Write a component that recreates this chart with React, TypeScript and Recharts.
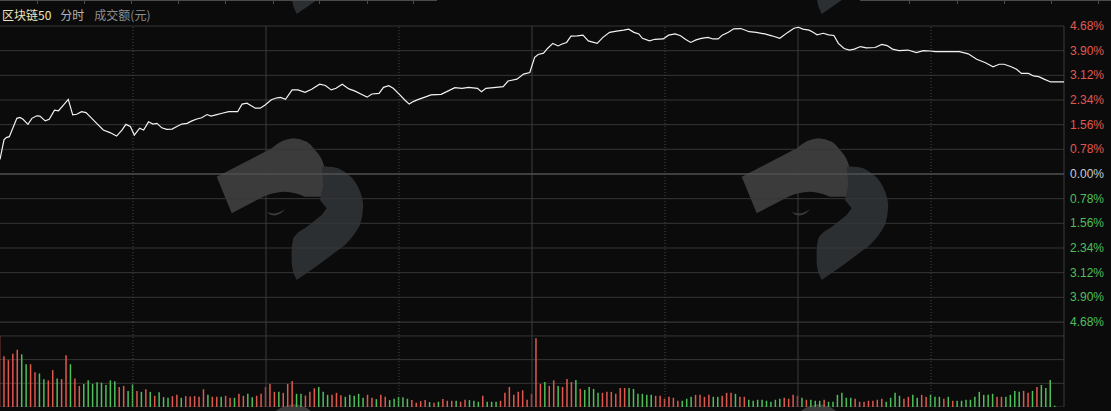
import React from "react";
import {
  LineChart,
  Line,
  BarChart,
  Bar,
  Cell,
  XAxis,
  YAxis,
  CartesianGrid,
  ReferenceLine,
} from "recharts";

// intraday minute index (0 = 9:30, 120 = 11:30/13:00, 240 = 15:00) and % change
const lineMinute = [
  0, 0.9, 1.4, 2.1, 3.8, 4.5, 5.2, 6.3, 7.2, 8.3,
  9.0, 10.2, 11.1, 12.3, 13.2, 14.3, 15.4, 16.4, 17.3, 18.4,
  19.4, 20.7, 21.8, 23.3, 24.8, 26.3, 27.5, 28.4, 29.4, 30.3,
  31.5, 32.4, 33.5, 34.5, 35.4, 36.5, 37.6, 38.8, 39.9, 41.0,
  42.2, 43.3, 44.4, 45.5, 46.7, 47.6, 48.9, 50.1, 51.6, 53.6,
  54.6, 55.7, 57.6, 58.7, 59.8, 61.2, 62.5, 63.3, 64.4, 65.9,
  67.2, 68.8, 70.3, 72.1, 73.4, 74.7, 75.8, 77.2, 78.7, 80.1,
  81.5, 82.8, 83.9, 85.5, 86.5, 87.7, 88.7, 90.2, 91.3, 92.3,
  93.2, 94.4, 96.0, 97.2, 99.5, 101.0, 102.6, 104.2, 105.7, 107.7,
  108.6, 109.6, 111.9, 113.5, 114.6, 116.6, 118.1, 119.5, 120.6, 121.4,
  122.6, 123.5, 124.7, 125.9, 126.8, 127.8, 128.8, 130.2, 131.5, 132.7,
  133.7, 134.7, 136.0, 137.5, 139.1, 140.7, 141.8, 143.0, 144.1, 144.9,
  146.5, 147.7, 149.6, 150.8, 152.3, 153.5, 154.6, 155.8, 157.0, 158.2,
  159.7, 160.8, 162.0, 162.9, 164.3, 165.5, 167.1, 169.0, 170.6, 172.5,
  174.1, 175.9, 177.6, 179.1, 180.1, 181.1, 182.5, 183.4, 184.3, 185.7,
  186.9, 188.1, 189.1, 190.4, 191.6, 192.7, 194.1, 195.4, 197.4, 198.9,
  200.1, 201.3, 202.8, 204.8, 206.7, 208.3, 209.8, 211.0, 212.9, 216.4,
  218.4, 220.3, 222.3, 224.0, 225.4, 226.5, 228.1, 229.3, 230.4, 232.0,
  233.1, 234.3, 235.5, 237.0, 240.0,
];

const linePct = [
  0.46, 1.08, 1.15, 1.18, 1.76, 1.79, 1.73, 1.57, 1.76, 1.84,
  1.83, 1.68, 1.73, 2.02, 2.0, 2.18, 2.36, 1.87, 1.89, 1.97,
  1.94, 1.76, 1.6, 1.39, 1.31, 1.2, 1.39, 1.57, 1.5, 1.23,
  1.45, 1.39, 1.65, 1.58, 1.6, 1.46, 1.41, 1.42, 1.5, 1.58,
  1.6, 1.68, 1.74, 1.78, 1.88, 1.83, 1.88, 1.92, 1.97, 1.97,
  2.21, 2.24, 2.08, 2.08, 2.18, 2.35, 2.41, 2.42, 2.36, 2.66,
  2.66, 2.58, 2.68, 2.84, 2.8, 2.66, 2.71, 2.84, 2.69, 2.62,
  2.52, 2.43, 2.53, 2.55, 2.74, 2.79, 2.71, 2.5, 2.34, 2.21,
  2.29, 2.36, 2.44, 2.5, 2.52, 2.62, 2.73, 2.71, 2.74, 2.71,
  2.6, 2.71, 2.74, 2.76, 2.94, 3.0, 3.16, 3.21, 3.69, 3.78,
  3.82, 3.97, 4.13, 4.05, 4.11, 4.16, 4.36, 4.37, 4.39, 4.21,
  4.17, 4.13, 4.32, 4.48, 4.52, 4.55, 4.58, 4.48, 4.43, 4.29,
  4.21, 4.26, 4.27, 4.39, 4.43, 4.37, 4.26, 4.16, 4.24, 4.29,
  4.32, 4.27, 4.27, 4.39, 4.48, 4.59, 4.6, 4.5, 4.48, 4.43,
  4.37, 4.29, 4.47, 4.61, 4.64, 4.58, 4.55, 4.48, 4.4, 4.45,
  4.4, 4.38, 4.13, 3.97, 3.92, 3.95, 4.03, 3.99, 4.0, 4.1,
  4.06, 3.95, 3.9, 3.92, 3.84, 3.9, 3.89, 3.87, 3.87, 3.87,
  3.8, 3.63, 3.52, 3.39, 3.47, 3.47, 3.39, 3.31, 3.18, 3.18,
  3.1, 3.08, 3.0, 2.91, 2.91,
];

// turnover per minute (relative units) and whether the minute closed up
const volAmount = [
  215, 154, 142, 162, 174, 160, 130, 130, 106, 102,
  84, 81, 112, 87, 85, 157, 130, 87, 64, 70,
  81, 70, 75, 74, 67, 81, 78, 61, 64, 49,
  69, 49, 46, 54, 46, 34, 45, 30, 28, 33,
  37, 28, 33, 32, 33, 31, 54, 37, 31, 31,
  31, 34, 28, 28, 40, 34, 40, 30, 34, 40,
  61, 70, 46, 46, 43, 70, 79, 40, 40, 35,
  46, 57, 61, 46, 37, 37, 43, 36, 31, 37,
  34, 40, 28, 37, 28, 24, 37, 31, 21, 25,
  31, 30, 25, 21, 13, 18, 21, 15, 13, 16,
  24, 19, 19, 19, 16, 22, 21, 19, 16, 34,
  16, 16, 16, 19, 43, 61, 37, 46, 51, 22,
  40, 209, 70, 76, 64, 81, 64, 61, 85, 76,
  82, 55, 52, 61, 55, 43, 43, 46, 46, 40,
  58, 58, 58, 55, 40, 40, 37, 37, 34, 34,
  25, 31, 28, 19, 19, 25, 31, 37, 37, 31,
  37, 31, 31, 34, 43, 43, 40, 31, 31, 22,
  19, 22, 22, 19, 16, 22, 25, 28, 25, 37,
  34, 28, 22, 22, 19, 19, 22, 16, 16, 37,
  43, 28, 28, 25, 16, 16, 19, 19, 22, 25,
  16, 28, 43, 34, 25, 31, 37, 28, 37, 31,
  37, 31, 31, 25, 31, 19, 19, 19, 22, 22,
  31, 46, 37, 37, 40, 31, 31, 31, 37, 49,
  46, 49, 43, 49, 61, 67, 58, 82, 4,
];

const volUp = [
  1, 1, 1, 1, 1, 0, 0, 1, 1, 0,
  0, 1, 1, 0, 1, 1, 0, 1, 1, 0,
  0, 0, 0, 0, 0, 0, 0, 1, 1, 0,
  0, 1, 0, 1, 0, 1, 0, 0, 0, 1,
  1, 0, 1, 1, 1, 1, 1, 0, 1, 1,
  0, 1, 1, 0, 1, 1, 0, 0, 1, 1,
  1, 1, 1, 0, 1, 1, 1, 0, 0, 1,
  1, 1, 0, 0, 0, 1, 1, 1, 0, 0,
  0, 0, 0, 1, 1, 0, 1, 1, 0, 0,
  0, 0, 0, 1, 1, 1, 1, 0, 1, 0,
  1, 1, 1, 0, 1, 1, 0, 0, 0, 1,
  0, 0, 0, 1, 1, 1, 1, 1, 1, 1,
  1, 1, 1, 0, 1, 1, 0, 1, 1, 1,
  0, 1, 0, 0, 0, 0, 1, 1, 1, 1,
  1, 1, 0, 0, 0, 0, 0, 0, 1, 1,
  1, 1, 1, 1, 0, 0, 0, 1, 1, 1,
  1, 0, 0, 1, 1, 1, 0, 1, 1, 0,
  0, 0, 0, 0, 0, 0, 0, 1, 1, 1,
  1, 0, 1, 0, 0, 0, 1, 0, 0, 0,
  0, 0, 0, 1, 1, 1, 1, 1, 1, 1,
  0, 0, 0, 0, 1, 1, 0, 0, 1, 1,
  0, 0, 0, 1, 0, 1, 0, 0, 0, 0,
  0, 0, 0, 0, 0, 1, 1, 0, 0, 0,
  0, 1, 1, 0, 1, 0, 0, 0, 0,
];

const pctTicks = [
  -4.68, -3.9, -3.12, -2.34, -1.56, -0.78, 0, 0.78, 1.56, 2.34, 3.12, 3.9, 4.68,
];
const solidMinutes = [60, 120, 180];
const dottedMinutes = [30, 90, 150, 210];

const UP = "#e0594f";
const DOWN = "#4fbf5c";
const GRID = "#363636";

const priceData = lineMinute.map((m, i) => ({ m, v: linePct[i] }));
const volData = volAmount.map((a, i) => ({ m: i, a, up: volUp[i] === 1 }));

const PctTick = (props: any) => {
  const { x, y, payload } = props;
  const v = payload.value as number;
  const fill = v > 0 ? UP : v < 0 ? DOWN : "#c4cbd4";
  return (
    <text
      x={x + 4}
      y={y}
      dy={4}
      fill={fill}
      fontSize={12}
      fontFamily="'Liberation Sans', Arial, sans-serif"
      textAnchor="start"
    >
      {Math.abs(v).toFixed(2)}%
    </text>
  );
};

// faint eagle logo watermark, repeated in a tile pattern
const Logo: React.FC<{ dx: number; dy: number }> = ({ dx, dy }) => (
  <g transform={`translate(${dx} ${dy})`}>
    <path
      d="M216.7 176.7 L271.7 148.3 Q282 139 293.3 138.3 Q308 139 315 150 Q322 157 324.3 166.7 L325 196.7 L305 196.7 Q295 192 285 191.7 Q273 192 263.3 196.7 L231.7 213.3 Z"
      fill="#3b3b3b"
    />
    <path
      d="M321.7 166.7 Q331 166 338.3 168.3 Q350 174 355 181.7 Q362 192 363.3 205 Q363 216 360 225 Q354 236 345 245 L318.3 265 L296.7 280 Q291 270 291.7 258.3 Q291 247 293.3 238.3 Q298 231 305 228.3 L321.7 215 L326.7 208.3 L320 200 L323.3 185 Z"
      fill="#2c2f32"
    />
    <path d="M266.7 212 Q276 216 285 209 Q282 214 275 215.5 Q270 215.5 266.7 212 Z" fill="#3b3b3b" />
  </g>
);

const tabTicks = [37, 84, 131, 178, 225, 273, 319, 367, 413, 909, 957, 1004, 1051, 1098];

export default function App() {
  return (
    <div
      style={{
        position: "fixed",
        left: 0,
        top: 0,
        width: 1111,
        height: 411,
        background: "#0b0b0b",
        overflow: "hidden",
      }}
    >
      <style>{"body{margin:0;background:#0b0b0b}"}</style>
      <svg width={1111} height={411} style={{ position: "absolute", left: 0, top: 0 }}>
        {[0, 525].map((dx) =>
          [-266, 0, 266].map((dy) => <Logo key={`${dx}_${dy}`} dx={dx} dy={dy} />)
        )}
        <line x1={0} y1={0.5} x2={437} y2={0.5} stroke="#4a4a4a" />
        <line x1={860} y1={0.5} x2={1111} y2={0.5} stroke="#4a4a4a" />
        {tabTicks.map((t) => (
          <line key={t} x1={t + 0.5} y1={0} x2={t + 0.5} y2={4} stroke="#4a4a4a" />
        ))}
      </svg>

      <div
        style={{
          position: "absolute",
          left: 2,
          top: 6,
          fontSize: 12,
          lineHeight: "18px",
          fontFamily: "'Noto Sans CJK SC', sans-serif",
          whiteSpace: "nowrap",
        }}
      >
        <span style={{ color: "#ece6bf" }}>区块链50</span>
        <span style={{ color: "#b4b4b4", marginLeft: 9 }}>分时</span>
        <span style={{ color: "#8e8e8e", marginLeft: 10 }}>成交额(元)</span>
      </div>

      <div style={{ position: "absolute", left: 0, top: 16 }}>
        <LineChart
          width={1111}
          height={316}
          data={priceData}
          margin={{ top: 10, right: 0, bottom: 10, left: 0 }}
        >
          <CartesianGrid vertical={false} stroke={GRID} />
          <XAxis type="number" dataKey="m" domain={[0, 240]} hide />
          <YAxis
            orientation="right"
            width={47}
            domain={[-4.68, 4.68]}
            ticks={pctTicks}
            axisLine={false}
            tickLine={false}
            tickSize={0}
            tick={<PctTick />}
            interval={0}
          />
          {dottedMinutes.map((m) => (
            <ReferenceLine key={m} x={m} stroke="#474747" strokeDasharray="1 2" />
          ))}
          {solidMinutes.map((m) => (
            <ReferenceLine key={m} x={m} stroke="#3c3c3c" />
          ))}
          <ReferenceLine x={240} stroke="#3c3c3c" />
          <ReferenceLine y={0} stroke="#5c5c5c" />
          <Line
            type="linear"
            dataKey="v"
            stroke="#f2f2f2"
            strokeWidth={1.2}
            dot={false}
            isAnimationActive={false}
          />
        </LineChart>
      </div>

      <div style={{ position: "absolute", left: 0, top: 322 }}>
        <BarChart
          width={1111}
          height={85}
          data={volData}
          margin={{ top: 0, right: 47, bottom: 0, left: 0 }}
        >
          <CartesianGrid vertical={false} stroke={GRID} />
          <XAxis type="number" dataKey="m" domain={[0, 240]} hide />
          <YAxis domain={[0, 258.4]} ticks={[0, 72, 144, 216]} hide />
          {dottedMinutes.map((m) => (
            <ReferenceLine key={m} x={m} stroke="#474747" strokeDasharray="1 2" />
          ))}
          {solidMinutes.map((m) => (
            <ReferenceLine key={m} x={m} stroke="#3c3c3c" />
          ))}
          <ReferenceLine x={240} stroke="#3c3c3c" />
          <Bar dataKey="a" barSize={1.5} isAnimationActive={false}>
            {volData.map((d) => (
              <Cell key={d.m} fill={d.up ? UP : DOWN} />
            ))}
          </Bar>
        </BarChart>
      </div>
    </div>
  );
}
